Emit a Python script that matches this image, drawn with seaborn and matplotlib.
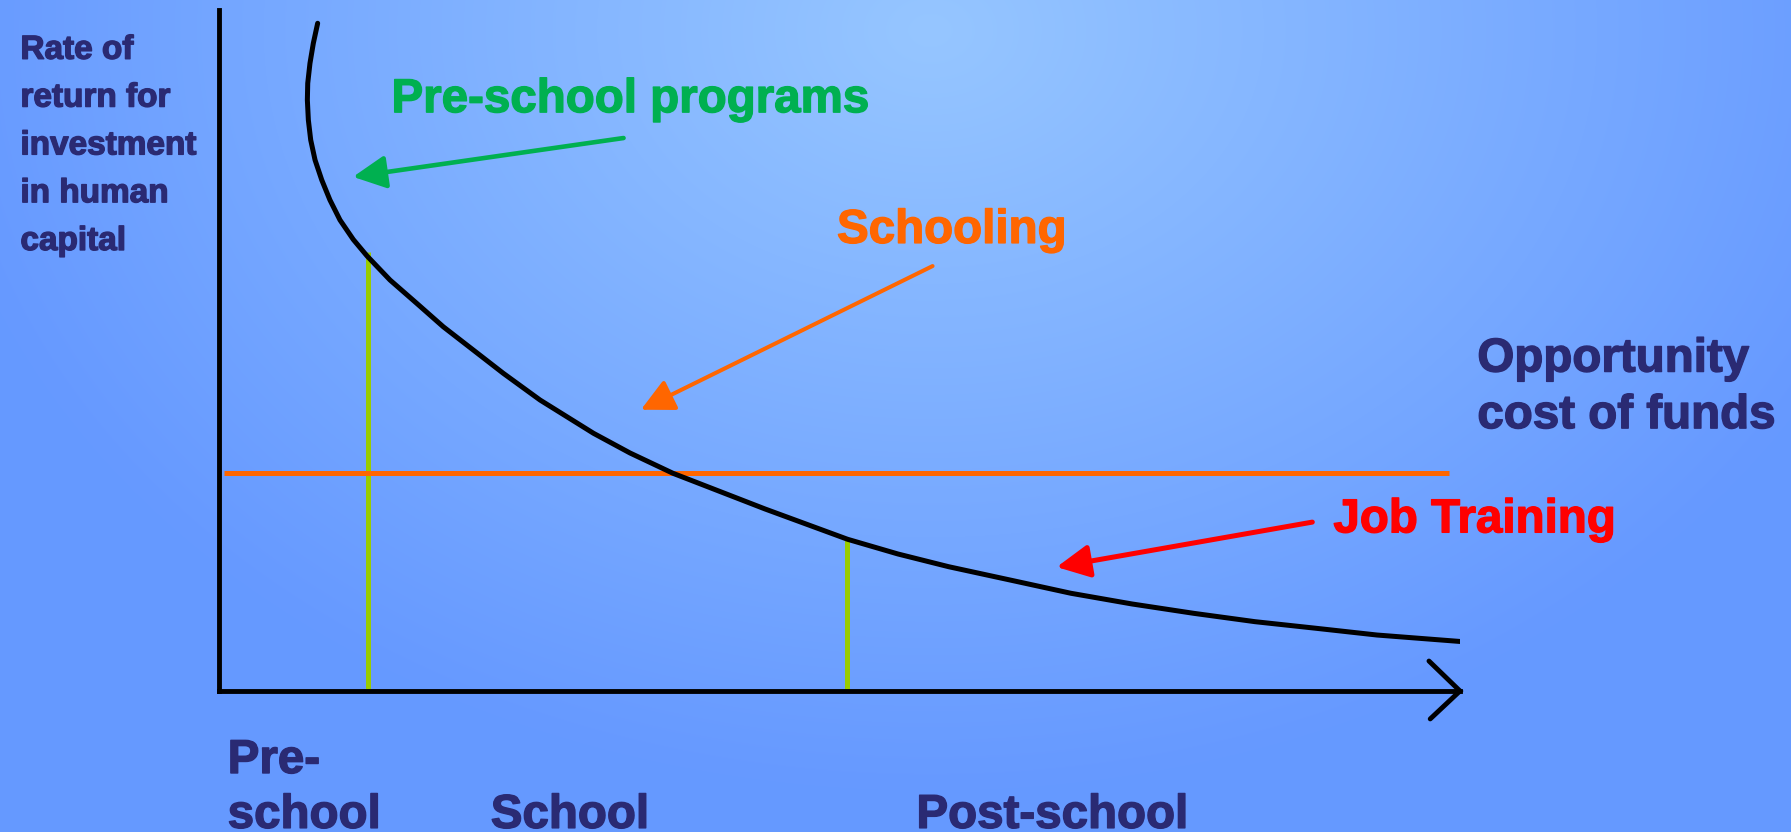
import numpy as np
import pandas as pd

import matplotlib
matplotlib.use("Agg")
import matplotlib.pyplot as plt
import matplotlib.patheffects as pe
from matplotlib.patches import ArrowStyle
import seaborn as sns


# return curve (x = stage of life, y = rate of return)
CURVE_X = [0.795, 0.760, 0.733, 0.715, 0.712, 0.720, 0.739, 0.774, 0.828,
           0.894, 0.975, 1.082, 1.193, 1.378, 1.593, 1.807, 2.049, 2.291,
           2.587, 3.018, 3.312, 3.658, 4.005, 4.400, 5.065, 5.471, 5.880,
           6.374, 6.865, 7.357, 7.853, 8.348, 8.840, 9.331, 10.024]
CURVE_Y = [9.805, 9.511, 9.217, 8.924, 8.678, 8.385, 8.091, 7.797, 7.504,
           7.210, 6.916, 6.630, 6.388, 6.035, 5.693, 5.349, 5.007, 4.665,
           4.273, 3.784, 3.495, 3.197, 2.952, 2.673, 2.228, 2.012, 1.825,
           1.630, 1.435, 1.278, 1.141, 1.018, 0.921, 0.822, 0.724]

OPP_COST = 3.20
OPP_COST_X = [0.04, 9.91]

# stage boundaries and where they meet the curve
STAGE_X = [1.20, 5.06]
STAGE_TOP = [6.45, 2.22]

# chevron at the end of the x axis
CHEVRON_X = [9.75, 10.0, 9.76]
CHEVRON_Y = [0.44, 0.0, -0.41]

ARROW_LABELS = ["Pre-school programs", "Schooling", "Job Training"]
ARROW_COLORS = ["#00B050", "#FF6600", "#FF0000"]
ARROW_TAIL = [(3.26, 8.12), (5.75, 6.24), (8.81, 2.48)]
ARROW_TIP = [(1.08, 7.55), (3.40, 4.13), (6.75, 1.82)]
ARROW_WIDTH = [3.3, 2.9, 3.6]
LABEL_POS = [(1.39, 8.50), (4.98, 6.58), (8.98, 2.33)]

STAGE_LABELS = ["Pre-\nschool", "School", "Post-school"]
STAGE_LABEL_POS = [(0.07, -2.01), (2.19, -2.01), (5.62, -2.01)]

NAVY = "#2A2A73"


def background(width, height):
    yy, xx = np.mgrid[0:height, 0:width]
    t = np.sqrt(((xx - 930) / 1000) ** 2 + ((yy - 30) / 760) ** 2)
    t = np.clip(t, 0, 1)[..., None]
    light = np.array([0x96, 0xC6, 0xFF]) / 255
    dark = np.array([0x66, 0x99, 0xFF]) / 255
    return light * (1 - t) + dark * t


def bold_text(ax, x, y, s, color, size, **kw):
    ax.text(x, y, s, color=color, fontsize=size, fontweight="bold",
            va="baseline", ha="left", clip_on=False,
            path_effects=[pe.withStroke(linewidth=1.0, foreground=color)],
            **kw)


def main():
    sns.set_theme(style="white")
    plt.rcParams["font.family"] = ["Liberation Sans", "DejaVu Sans"]

    fig = plt.figure(figsize=(17.91, 8.32), dpi=100)

    bg = fig.add_axes([0, 0, 1, 1])
    bg.imshow(background(1791, 832), aspect="auto")
    bg.axis("off")

    ax = fig.add_axes([219 / 1791, 141 / 832, 1241 / 1791, 681 / 832])
    ax.set_xlim(0, 10)
    ax.set_ylim(0, 10)
    ax.patch.set_alpha(0)
    ax.set_xticks([])
    ax.set_yticks([])
    for side in ["top", "right"]:
        ax.spines[side].set_visible(False)
    for side in ["left", "bottom"]:
        ax.spines[side].set_color("black")
        ax.spines[side].set_linewidth(3.5)

    ax.plot(CHEVRON_X, CHEVRON_Y, color="black", lw=3.5,
            solid_joinstyle="miter", clip_on=False)

    stages = pd.DataFrame({"x": STAGE_X, "top": STAGE_TOP})
    ax.vlines(stages["x"], 0, stages["top"], color="#99CC00", lw=3.6)

    ax.hlines(OPP_COST, OPP_COST_X[0], OPP_COST_X[1], color="#FF6600", lw=3.6)

    curve = pd.DataFrame({"x": CURVE_X, "y": CURVE_Y})
    sns.lineplot(data=curve, x="x", y="y", sort=False, estimator=None,
                 color="black", lw=3.6, ax=ax)
    ax.lines[-1].set_solid_joinstyle("round")
    ax.set_xlabel("")
    ax.set_ylabel("")

    for label, color, tail, tip, lw, pos in zip(
        ARROW_LABELS, ARROW_COLORS, ARROW_TAIL, ARROW_TIP, ARROW_WIDTH, LABEL_POS
    ):
        ax.annotate(
            "", xy=tip, xytext=tail,
            arrowprops=dict(
                arrowstyle=ArrowStyle("-|>", head_length=1.0, head_width=0.5),
                mutation_scale=20, lw=lw, color=color,
                shrinkA=0, shrinkB=0,
            ),
        )
        bold_text(ax, pos[0], pos[1], label, color, 34.2)

    bold_text(ax, 10.14, 3.86, "Opportunity\ncost of funds", NAVY, 34.2,
              linespacing=1.37)

    bold_text(ax, -1.60, 6.476,
              "Rate of\nreturn for\ninvestment\nin human\ncapital",
              NAVY, 24, linespacing=1.70)

    for label, pos in zip(STAGE_LABELS, STAGE_LABEL_POS):
        bold_text(ax, pos[0], pos[1], label, NAVY, 34.2, linespacing=1.32)

    fig.savefig("out.png", dpi=100)
    plt.close(fig)


if __name__ == "__main__":
    main()
